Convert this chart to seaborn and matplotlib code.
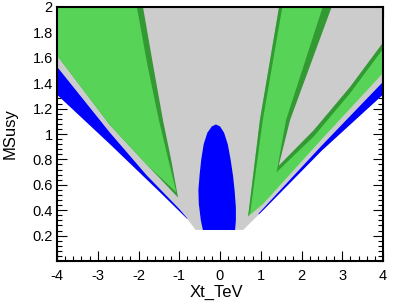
import matplotlib
matplotlib.use("Agg")
import matplotlib.pyplot as plt
from matplotlib.ticker import MultipleLocator
import seaborn as sns

# --- region boundaries (Xt in TeV, MSusy) ---
# lower edge of the filled area (below it the plot is white)
edge_x = [-4.0, -2.7, -1.5, -0.8, -0.6, 0.57, 1.06, 2.5, 4.0]
edge_y = [1.31, 0.92, 0.55, 0.33, 0.245, 0.245, 0.40, 0.87, 1.31]

# blue band along the left edge
bl_lo_x = [-4.0, -2.7, -1.5, -0.8]
bl_lo_y = [1.31, 0.92, 0.55, 0.33]
bl_hi_x = [-0.8, -1.0, -1.8, -2.7, -4.0]
bl_hi_y = [0.335, 0.41, 0.675, 1.01, 1.53]

# blue band along the right edge
br_lo_x = [0.95, 1.06, 2.5, 4.0]
br_lo_y = [0.365, 0.40, 0.87, 1.31]
br_hi_x = [4.0, 2.5, 0.95]
br_hi_y = [1.41, 0.91, 0.375]

# big green wedge on the left
gl_lo_x = [-4.0, -2.7, -1.8, -1.03]
gl_lo_y = [1.62, 1.07, 0.76, 0.50]
gl_hi_x = [-1.2, -1.40, -1.64, -1.89]
gl_hi_y = [0.80, 1.11, 1.54, 2.0]
gl_in_x = [-1.07, -1.27, -1.50, -1.78, -2.04]
gl_in_y = [0.54, 0.80, 1.11, 1.54, 2.0]

# green V region on the right
gr_x = [1.45, 0.98, 0.69, 1.06, 2.5, 4.0, 4.0]
gr_y = [2.0, 1.11, 0.35, 0.45, 0.96, 1.48, 2.0]
gr_in_x = [0.74, 1.05, 1.53]
gr_in_y = [0.38, 1.11, 2.0]

# grey gap inside the V (and its dark green rim)
hole_dark_x = [2.52, 1.62, 1.39, 2.3, 3.19, 4.0, 4.0]
hole_dark_y = [2.0, 1.11, 0.70, 0.98, 1.32, 1.67, 2.0]
hole_x = [2.74, 1.72, 1.44, 2.3, 3.19, 4.0, 4.0]
hole_y = [2.0, 1.11, 0.75, 1.03, 1.37, 1.72, 2.0]

# blue blob in the centre
blob_x = [-0.42, -0.47, -0.52, -0.53, -0.50, -0.46, -0.40, -0.31, -0.20,
          -0.10, 0.0, 0.10, 0.19, 0.26, 0.32, 0.36, 0.39, 0.39, 0.37]
blob_y = [0.244, 0.32, 0.45, 0.56, 0.68, 0.80, 0.92, 1.01, 1.06,
          1.075, 1.06, 1.01, 0.92, 0.80, 0.67, 0.55, 0.42, 0.32, 0.244]

xticks = [-4, -3, -2, -1, 0, 1, 2, 3, 4]
xtick_labels = ["-4", "-3", "-2", "-1", "0", "1", "2", "3", "4"]
yticks = [0.2, 0.4, 0.6, 0.8, 1.0, 1.2, 1.4, 1.6, 1.8, 2.0]
ytick_labels = ["0.2", "0.4", "0.6", "0.8", "1", "1.2", "1.4", "1.6", "1.8", "2"]

grey = "#cccccc"
light_green = "#57d457"
dark_green = "#339933"
blue = "#0000ff"

sns.set_theme(style="ticks")
plt.rcParams["font.family"] = ["Liberation Sans", "DejaVu Sans"]

fig = plt.figure(figsize=(3.99, 3.04), dpi=100)
ax = fig.add_axes([57 / 399, 1 - 261 / 304, 326 / 399, 254 / 304])

# grey allowed area
ax.fill(edge_x + [4.0, -4.0], edge_y + [2.0, 2.0], color=grey, lw=0)

# blue bands along the edges
ax.fill(bl_lo_x + bl_hi_x, bl_lo_y + bl_hi_y, color=blue, lw=0)
ax.fill(br_lo_x + br_hi_x, br_lo_y + br_hi_y, color=blue, lw=0)

# left green wedge: dark rim first, light body on top
ax.fill(gl_lo_x + gl_hi_x + [-4.0], gl_lo_y + gl_hi_y + [2.0], color=dark_green, lw=0)
ax.fill(gl_lo_x[:-1] + gl_in_x + [-4.0], gl_lo_y[:-1] + gl_in_y + [2.0],
        color=light_green, lw=0)

# right green V region
ax.fill(gr_x, gr_y, color=light_green, lw=0)
ax.fill(gr_x[:3] + gr_in_x, gr_y[:3] + gr_in_y, color=dark_green, lw=0)
ax.fill(hole_dark_x, hole_dark_y, color=dark_green, lw=0)
ax.fill(hole_x, hole_y, color=grey, lw=0)

# central blue blob
ax.fill(blob_x, blob_y, color=blue, lw=0)

ax.set_xlim(-4, 4)
ax.set_ylim(0, 2)
ax.set_xticks(xticks)
ax.set_xticklabels(xtick_labels)
ax.set_yticks(yticks)
ax.set_yticklabels(ytick_labels)
ax.xaxis.set_minor_locator(MultipleLocator(0.2))
ax.yaxis.set_minor_locator(MultipleLocator(0.04))
ax.tick_params(which="both", direction="in", top=True, right=True,
               color="black", width=0.8, labelsize=10.5, labelcolor="black")
ax.tick_params(axis="x", which="both", pad=6)
ax.tick_params(axis="y", which="both", pad=3)
ax.tick_params(which="major", length=7)
ax.tick_params(which="minor", length=3.5)
for side in ax.spines.values():
    side.set_linewidth(1.5)
    side.set_color("black")

ax.set_xlabel("Xt_TeV", fontsize=12, color="black")
ax.set_ylabel("MSusy", fontsize=12, color="black")
ax.xaxis.set_label_coords(0.49, -0.094)
ax.yaxis.set_label_coords(-0.12, 0.5)
ax.set_facecolor("white")

fig.savefig("out.png", dpi=100, facecolor="white")
